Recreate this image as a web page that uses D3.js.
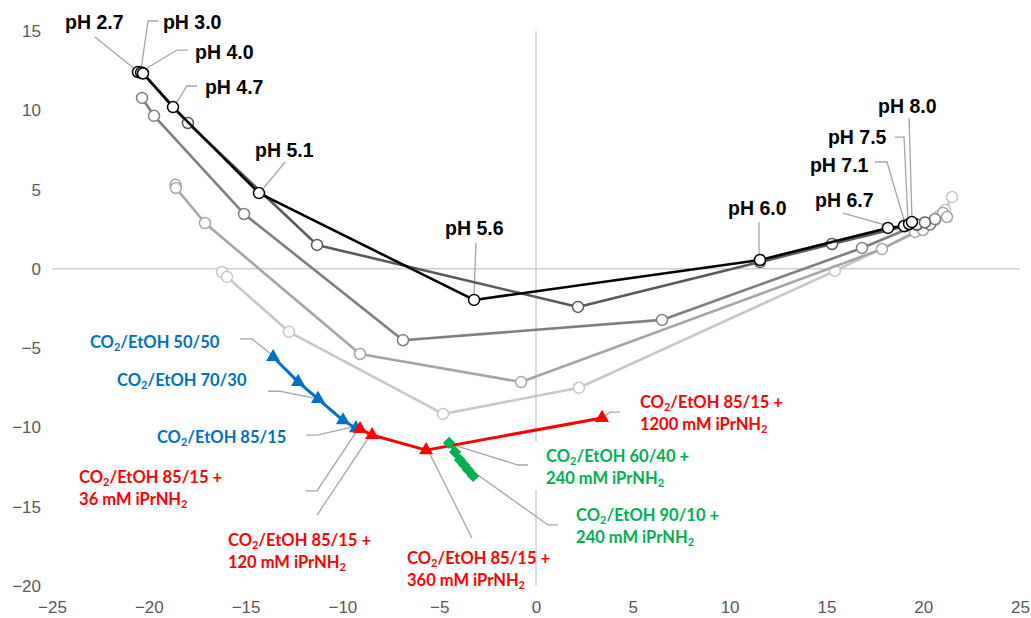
<!DOCTYPE html>
<html><head><meta charset="utf-8">
<script src="https://cdn.jsdelivr.net/npm/d3@7"></script>
<style>
html,body{margin:0;padding:0;background:#fff;}
svg{display:block;}
</style></head>
<body>
<svg id="chart" width="1031" height="618"></svg>
<script>
// ---------- DATA ----------
const xTicks = [-25,-20,-15,-10,-5,0,5,10,15,20,25];
const yTicks = [15,10,5,0,-5,-10,-15,-20];

// gray pH series (x, y)
const seriesA = [[-20.56,12.41],[-20.4,12.38],[-20.3,12.32],[-18.75,10.2],[-14.31,4.78],[-3.2,-1.96],[11.57,0.56],[18.18,2.58],[19.01,2.7],[19.27,2.83],[19.42,2.95]];
const seriesB = [[-20.3,12.35],[-17.98,9.2],[-11.31,1.51],[2.17,-2.4],[11.57,0.43],[15.29,1.57],[19.06,2.68],[19.68,2.8],[20.09,2.93]];
const seriesC = [[-20.35,10.78],[-19.73,9.65],[-15.08,3.46],[-6.87,-4.5],[6.51,-3.22],[16.84,1.32],[19.68,2.77],[20.35,2.8],[20.61,3.14]];
const seriesD = [[-18.62,5.3],[-18.6,5.1],[-17.1,2.89],[-9.09,-5.37],[-0.77,-7.14],[17.87,1.25],[19.58,2.33],[19.99,2.45],[20.61,3.08],[21.02,3.53],[21.23,3.27]];
const seriesE = [[-16.22,-0.2],[-15.96,-0.51],[-12.76,-3.97],[-4.8,-9.15],[2.22,-7.5],[15.44,-0.13],[19.89,2.45],[20.87,3.4],[21.13,3.71],[21.49,4.53]];

// CO2/EtOH series
const blueSeries  = [[-13.58,-5.56],[-12.29,-7.13],[-11.26,-8.2],[-9.97,-9.55],[-9.3,-10.05]];
const redSeries   = [[-9.09,-10.1],[-8.47,-10.48],[-5.68,-11.43],[3.41,-9.4]];
const greenSeries = [[-4.49,-10.98],[-4.18,-11.55],[-3.93,-12.05],[-3.72,-12.36],[-3.51,-12.68],[-3.25,-13.06]];

// annotation texts
const phLabels = ["pH 2.7","pH 3.0","pH 4.0","pH 4.7","pH 5.1","pH 5.6","pH 6.0","pH 6.7","pH 7.1","pH 7.5","pH 8.0"];
const blueLabels = ["50/50","70/30","85/15"];
const redLabels = [["85/15 +","36 mM iPrNH"],["85/15 +","120 mM iPrNH"],["85/15 +","360 mM iPrNH"],["85/15 +","1200 mM iPrNH"]];
const greenLabels = [["60/40 +","240 mM iPrNH"],["90/10 +","240 mM iPrNH"]];

// ---------- LAYOUT (data-unit anchors for annotations) ----------
const phAnchor = [[-24.33,15.57],[-19.27,15.57],[-17.61,13.68],[-17.1,11.46],[-14.51,7.5],[-4.7,2.58],[9.92,3.84],[14.41,4.34],[14.15,6.55],[15.08,8.31],[17.67,10.26]];
const phLeader = [
  [[-22.78,14.62],[-20.66,12.54]],
  [[-19.52,15.63],[-20.04,15.63],[-20.4,12.6]],
  [[-17.98,13.8],[-18.54,13.8],[-20.09,12.67]],
  [[-17.51,11.53],[-18.03,11.53],[-18.65,10.33]],
  [[-12.96,6.74],[-14.1,5.04]],
  [[-3.1,1.63],[-3.2,-1.65]],
  [[11.52,2.95],[11.52,0.93]],
  [[15.86,3.52],[18.08,2.75]],
  [[17.51,6.74],[18.13,6.74],[19.01,3.08]],
  [[18.54,8.31],[19.01,8.31],[19.21,3.15]],
  [[19.27,9.51],[19.42,3.15]]
];
const blueAnchor = [[-23.04,-4.61],[-21.64,-7.02],[-19.58,-10.6]];
const blueLeader = [
  [[-15.29,-4.42],[-14.67,-4.42],[-13.69,-5.37]],
  [[-13.84,-7.72],[-13.22,-7.72],[-11.52,-8.14]],
  [[-11.88,-10.48],[-11.31,-10.48],[-9.5,-9.98]]
];
const redAnchor = [[-23.6,-13.12],[-15.91,-17.1],[-6.66,-18.24],[5.37,-8.4]];
const redLeader = [
  [[-11.88,-14.0],[-11.31,-14.0],[-9.25,-10.22]],
  [[-11.31,-15.53],[-8.52,-10.41]],
  [[-3.31,-16.97],[-5.48,-11.67]],
  [[4.34,-9.03],[3.82,-9.03],[3.46,-9.4]]
];
const greenAnchor = [[0.52,-11.8],[2.07,-15.52]];
const greenLeader = [
  [[-0.41,-12.37],[-0.93,-12.37],[-4.29,-11.1]],
  [[1.14,-16.15],[0.62,-16.15],[-3.15,-12.87]]
];

// ---------- CHART ----------
const svg = d3.select("#chart");
const x = d3.scaleLinear().domain([-25,25]).range([52,1020]);
const y = d3.scaleLinear().domain([-20,15]).range([586,31]);

const axisColor = "#d0d0d0";
const tickFont = "'Liberation Sans', Arial, sans-serif";
const lblFont = "Lato, 'Open Sans', sans-serif";

// zero lines
svg.append("line").attr("x1",x(-25)).attr("x2",x(25)).attr("y1",y(0)).attr("y2",y(0))
  .attr("stroke",axisColor).attr("stroke-width",1.5);
svg.append("line").attr("x1",x(0)).attr("x2",x(0)).attr("y1",y(15)).attr("y2",y(-20))
  .attr("stroke",axisColor).attr("stroke-width",1.5);

// axes (labels only)
const gy = svg.append("g").attr("transform",`translate(${x(-25)},0)`)
  .call(d3.axisLeft(y).tickValues(yTicks).tickSize(0).tickPadding(11));
const gx = svg.append("g").attr("transform",`translate(0,${y(-20)})`)
  .call(d3.axisBottom(x).tickValues(xTicks).tickSize(0).tickPadding(15));
[gx,gy].forEach(g=>{
  g.select(".domain").remove();
  g.selectAll("text").attr("fill","#595959").style("font-family",tickFont).style("font-size","17px");
});

const line = d3.line().x(d=>x(d[0])).y(d=>y(d[1]));

// leader lines
function leaders(arr){
  arr.forEach(pts=>{
    svg.append("path").attr("d",line(pts)).attr("fill","none")
      .attr("stroke","#a6a6a6").attr("stroke-width",1.3);
  });
}
leaders(phLeader); leaders(blueLeader); leaders(redLeader); leaders(greenLeader);

// gray series
const grays = [
  {data:seriesE,color:"#c8c8c8"},
  {data:seriesD,color:"#a6a6a6"},
  {data:seriesC,color:"#7f7f7f"},
  {data:seriesB,color:"#595959"},
  {data:seriesA,color:"#000000"}
];
grays.forEach(s=>{
  svg.append("path").attr("d",line(s.data)).attr("fill","none")
    .attr("stroke",s.color).attr("stroke-width",2.6).attr("stroke-linejoin","round");
  svg.selectAll(null).data(s.data).enter().append("circle")
    .attr("cx",d=>x(d[0])).attr("cy",d=>y(d[1])).attr("r",5.5)
    .attr("fill","#fff").attr("stroke",s.color).attr("stroke-width",1.5);
});

// colored series
function symSeries(data,color,sym,size,rot){
  svg.append("path").attr("d",line(data)).attr("fill","none")
    .attr("stroke",color).attr("stroke-width",3).attr("stroke-linejoin","round");
  svg.selectAll(null).data(data).enter().append("path")
    .attr("d",d3.symbol().type(sym).size(size)())
    .attr("transform",d=>`translate(${x(d[0])},${y(d[1])}) rotate(${rot})`)
    .attr("fill",color);
}
symSeries(blueSeries,"#0070c0",d3.symbolTriangle,85,0);
symSeries(redSeries,"#ff0000",d3.symbolTriangle,85,0);
symSeries(greenSeries,"#00b050",d3.symbolSquare,75,45);

// pH labels
phLabels.forEach((t,i)=>{
  svg.append("text").attr("x",x(phAnchor[i][0])).attr("y",y(phAnchor[i][1]))
    .attr("dominant-baseline","central").attr("fill","#000")
    .style("font-family",tickFont).style("font-weight","bold").style("font-size","19.5px")
    .text(t);
});

function coLabel(xx,yy,color,rest,line2){
  const t = svg.append("text").attr("x",xx).attr("y",yy).attr("fill",color)
    .style("font-family",lblFont).style("font-weight","bold").style("font-size","16.5px")
    .attr("dominant-baseline","central");
  t.append("tspan").text("CO");
  t.append("tspan").text("2").style("font-size","11px").attr("dy","4");
  t.append("tspan").text("/EtOH "+rest).attr("dy","-4");
  if(line2){
    const t2 = svg.append("text").attr("x",xx).attr("y",yy+22).attr("fill",color)
      .style("font-family",lblFont).style("font-weight","bold").style("font-size","16.5px")
      .attr("dominant-baseline","central");
    t2.append("tspan").text(line2);
    t2.append("tspan").text("2").style("font-size","11px").attr("dy","4");
  }
}
// white backing for green labels (covers axis line)
greenAnchor.forEach((a,i)=>{
  svg.insert("rect","path").attr("x",x(a[0])-12).attr("y",y(a[1])-14).attr("width",150).attr("height",48).attr("fill","#fff");
});
blueLabels.forEach((t,i)=>coLabel(x(blueAnchor[i][0]),y(blueAnchor[i][1]),"#0070c0",t,null));
redLabels.forEach((t,i)=>coLabel(x(redAnchor[i][0]),y(redAnchor[i][1]),"#ff0000",t[0],t[1]));
greenLabels.forEach((t,i)=>coLabel(x(greenAnchor[i][0]),y(greenAnchor[i][1]),"#00b050",t[0],t[1]));
</script>
</body></html>
